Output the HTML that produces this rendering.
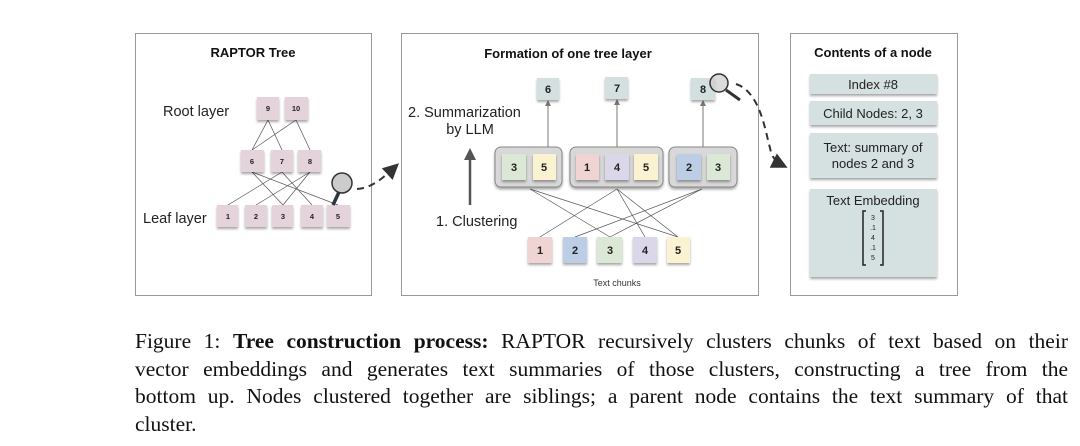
<!DOCTYPE html>
<html><head><meta charset="utf-8"><style>
body{margin:0;width:1080px;height:446px;background:#fff;overflow:hidden;position:relative;font-family:"Liberation Sans",sans-serif}
.cap{position:absolute;left:135px;width:933px;font-family:"Liberation Serif",serif;font-size:21.5px;line-height:28px;white-space:nowrap;color:#111}
.j{text-align:justify;text-align-last:justify;white-space:normal;height:28px;overflow:hidden}
</style></head><body>
<svg width="1080" height="320" style="position:absolute;left:0;top:0" font-family="Liberation Sans, sans-serif">
<defs>
<filter id="sh" x="-20%" y="-20%" width="140%" height="160%"><feDropShadow dx="0" dy="2" stdDeviation="1.2" flood-color="#000" flood-opacity="0.35"/></filter>
<marker id="ah" markerWidth="8" markerHeight="8" refX="6" refY="4" orient="auto"><path d="M0,0 L8,4 L0,8 z" fill="#333"/></marker>
<marker id="ag" markerWidth="6" markerHeight="6" refX="3" refY="3" orient="auto"><path d="M0,0 L6,3 L0,6 z" fill="#777"/></marker>
</defs>
<rect x="135.5" y="33.5" width="236" height="262" fill="#fff" stroke="#999"/>
<rect x="401.5" y="33.5" width="357" height="262" fill="#fff" stroke="#999"/>
<rect x="790.5" y="33.5" width="167" height="262" fill="#fff" stroke="#999"/>
<!-- Panel 1 -->
<text x="253" y="57" font-size="13" font-weight="bold" text-anchor="middle" fill="#111">RAPTOR Tree</text>
<text x="163" y="116" font-size="14.5" fill="#222">Root layer</text>
<text x="143" y="223" font-size="14.5" fill="#222">Leaf layer</text>
<g stroke="#555" stroke-width="0.7">
<line x1="268" y1="120" x2="252" y2="150"/><line x1="268" y1="120" x2="282" y2="150"/>
<line x1="296" y1="120" x2="252" y2="150"/><line x1="296" y1="120" x2="310" y2="150"/>
<line x1="252" y1="172" x2="283" y2="205"/><line x1="252" y1="172" x2="338" y2="205"/>
<line x1="282" y1="172" x2="228" y2="205"/><line x1="282" y1="172" x2="312" y2="205"/>
<line x1="310" y1="172" x2="256" y2="205"/><line x1="310" y1="172" x2="283" y2="205"/>
</g>
<g fill="#e5d3dc" filter="url(#sh)">
<rect x="257" y="97" width="22" height="23"/><rect x="285" y="97" width="23" height="23"/>
<rect x="241" y="150" width="23" height="22"/><rect x="271" y="150" width="22" height="22"/><rect x="298" y="150" width="23" height="22"/>
<rect x="217" y="205" width="21" height="22"/><rect x="245" y="205" width="22" height="22"/><rect x="272" y="205" width="21" height="22"/><rect x="301" y="205" width="22" height="22"/><rect x="327" y="205" width="23" height="22"/>
</g>
<g font-size="7.5" font-weight="bold" text-anchor="middle" fill="#222">
<text x="268" y="111">9</text><text x="296" y="111">10</text>
<text x="252" y="164">6</text><text x="282" y="164">7</text><text x="310" y="164">8</text>
<text x="228" y="219">1</text><text x="256" y="219">2</text><text x="283" y="219">3</text><text x="312" y="219">4</text><text x="338" y="219">5</text>
</g>
<line x1="339" y1="192" x2="333" y2="205" stroke="#2b3640" stroke-width="3.5"/>
<circle cx="342" cy="183" r="10" fill="#ccc" stroke="#333" stroke-width="1.5"/>
<path d="M357,189 C372,188 383,178 396,166" fill="none" stroke="#333" stroke-width="2" stroke-dasharray="7,5" marker-end="url(#ah)"/>
<!-- Panel 2 -->
<text x="568" y="58" font-size="13" font-weight="bold" text-anchor="middle" fill="#111">Formation of one tree layer</text>
<text x="408" y="117" font-size="14.5" fill="#222">2. Summarization</text>
<text x="470" y="134" font-size="14.5" text-anchor="middle" fill="#222">by LLM</text>
<text x="436" y="226" font-size="14.5" fill="#222">1. Clustering</text>
<line x1="470" y1="205" x2="470" y2="158" stroke="#555" stroke-width="2.5"/>
<path d="M464,160 L470,148 L476,160 z" fill="#555"/>
<text x="617" y="286" font-size="9" text-anchor="middle" fill="#333">Text chunks</text>
<g stroke="#777" stroke-width="1">
<line x1="548" y1="147" x2="548" y2="104"/><line x1="617" y1="147" x2="617" y2="103"/><line x1="703" y1="147" x2="703" y2="104"/>
</g>
<path d="M545,106 L548,100 L551,106z M614,105 L617,99 L620,105z M700,106 L703,100 L706,106z" fill="#777"/>
<g fill="#d4e0e0" filter="url(#sh)">
<rect x="537" y="78" width="22" height="22"/><rect x="605" y="77" width="23" height="22"/><rect x="691" y="78" width="24" height="22"/>
</g>
<g fill="#d8d8d8" stroke="#888" stroke-width="1" filter="url(#sh)">
<rect x="495" y="147" width="67" height="40" rx="6"/><rect x="570" y="147" width="93" height="40" rx="6"/><rect x="669" y="147" width="68" height="40" rx="6"/>
</g>
<g stroke="#555" stroke-width="0.7">
<line x1="610" y1="237" x2="530" y2="189"/><line x1="678" y1="237" x2="530" y2="189"/>
<line x1="540" y1="237" x2="617" y2="189"/><line x1="645" y1="237" x2="617" y2="189"/><line x1="678" y1="237" x2="617" y2="189"/>
<line x1="575" y1="237" x2="702" y2="189"/><line x1="610" y1="237" x2="702" y2="189"/>
</g>
<g filter="url(#sh)">
<rect x="502" y="154" width="24" height="26" fill="#dbe8d6"/><rect x="533" y="154" width="23" height="26" fill="#fbf2d2"/>
<rect x="576" y="154" width="23" height="26" fill="#f0d3d3"/><rect x="605" y="154" width="24" height="26" fill="#dcd6ea"/><rect x="634" y="154" width="24" height="26" fill="#fbf2d2"/>
<rect x="677" y="154" width="24" height="26" fill="#bccde6"/><rect x="707" y="154" width="23" height="26" fill="#dbe8d6"/>
<rect x="528" y="237" width="24" height="26" fill="#f0d3d3"/><rect x="563" y="237" width="24" height="26" fill="#bccde6"/><rect x="597" y="237" width="25" height="26" fill="#dbe8d6"/><rect x="633" y="237" width="24" height="26" fill="#dcd6ea"/><rect x="667" y="237" width="23" height="26" fill="#fbf2d2"/>
</g>
<g font-size="11" font-weight="bold" text-anchor="middle" fill="#222">
<text x="548" y="93">6</text><text x="617" y="92">7</text><text x="703" y="93">8</text>
<text x="514" y="171">3</text><text x="544" y="171">5</text><text x="587" y="171">1</text><text x="617" y="171">4</text><text x="646" y="171">5</text><text x="689" y="171">2</text><text x="718" y="171">3</text>
<text x="540" y="254">1</text><text x="575" y="254">2</text><text x="610" y="254">3</text><text x="645" y="254">4</text><text x="678" y="254">5</text>
</g>
<line x1="726" y1="90" x2="740" y2="100" stroke="#333" stroke-width="3"/>
<circle cx="719" cy="83" r="9" fill="#ccc" fill-opacity="0.7" stroke="#333" stroke-width="1.5"/>
<path d="M736,84 C760,92 765,130 770,148 C772,158 776,162 784,166" fill="none" stroke="#333" stroke-width="2" stroke-dasharray="7,5" marker-end="url(#ah)"/>
<!-- Panel 3 -->
<text x="873" y="57" font-size="13" font-weight="bold" text-anchor="middle" fill="#111">Contents of a node</text>
<g fill="#d5e0e1" filter="url(#sh)">
<rect x="810" y="74" width="127" height="20"/><rect x="810" y="101" width="127" height="24"/><rect x="810" y="133" width="127" height="45"/><rect x="810" y="189" width="127" height="88"/>
</g>
<g font-size="13" text-anchor="middle" fill="#222">
<text x="873" y="89">Index #8</text><text x="873" y="118">Child Nodes: 2, 3</text>
<text x="873" y="152">Text:  summary of</text><text x="873" y="168">nodes 2 and 3</text>
<text x="873" y="205">Text Embedding</text>
</g>
<g font-size="7" text-anchor="middle" fill="#222">
<text x="873" y="220">3</text><text x="873" y="230">.1</text><text x="873" y="240">4</text><text x="873" y="250">.1</text><text x="873" y="260">5</text>
</g>
<path d="M866,211 h-3 v54 h3 M880,211 h3 v54 h-3" fill="none" stroke="#222" stroke-width="1.5"/>
</svg>
<div class="cap j" style="top:327px">Figure 1: <b>Tree construction process:</b> RAPTOR recursively clusters chunks of text based on their</div>
<div class="cap j" style="top:355px">vector embeddings and generates text summaries of those clusters, constructing a tree from the</div>
<div class="cap j" style="top:382px">bottom up. Nodes clustered together are siblings; a parent node contains the text summary of that</div>
<div class="cap" style="top:410px">cluster.</div>
</body></html>
